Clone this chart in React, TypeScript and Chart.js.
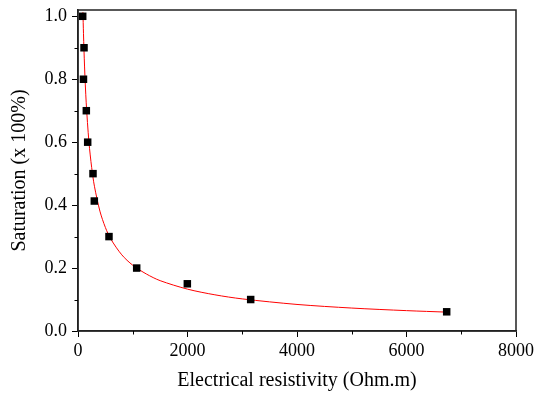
import React, { useEffect, useRef } from "react";
import { Chart, registerables } from "chart.js";

Chart.register(...registerables);

// Measured points: resistivity (Ohm.m) and saturation (fraction)
const resistivity = [86, 110, 100, 152, 177, 274, 298, 566, 1072, 1997, 3154, 6734];
const saturation = [1.0, 0.9, 0.8, 0.7, 0.6, 0.5, 0.413, 0.3, 0.2, 0.15, 0.1, 0.061];

// Fitted curve
const fitX = [90, 100, 120, 150, 200, 250, 300, 400, 500, 600, 800, 1000, 1250, 1500, 2000, 2500, 3000, 4000, 5000, 6000, 6734];
const fitY = [1.013, 0.946, 0.839, 0.725, 0.6, 0.519, 0.46, 0.381, 0.329, 0.292, 0.242, 0.209, 0.181, 0.16, 0.133, 0.115, 0.102, 0.0844, 0.0729, 0.0647, 0.06];

const xMajor = [0, 2000, 4000, 6000, 8000];
const xMinor = [1000, 3000, 5000, 7000];
const yMajor = [0, 0.2, 0.4, 0.6, 0.8, 1.0];
const yMinor = [0.1, 0.3, 0.5, 0.7, 0.9];

const FONT = "'Liberation Serif', 'Times New Roman', serif";

const framePlugin = {
  id: "frame",
  afterDraw(chart: any) {
    const { ctx, chartArea } = chart;
    const xs = chart.scales.x;
    const ys = chart.scales.y;
    ctx.save();
    ctx.strokeStyle = "#222";
    ctx.lineWidth = 1.5;
    ctx.beginPath();
    ctx.rect(chartArea.left, chartArea.top, chartArea.right - chartArea.left, chartArea.bottom - chartArea.top);
    ctx.stroke();
    ctx.lineWidth = 1;
    ctx.strokeStyle = "#000";
    ctx.beginPath();
    for (const v of xMinor) {
      const px = Math.round(xs.getPixelForValue(v)) + 0.5;
      ctx.moveTo(px, chartArea.bottom);
      ctx.lineTo(px, chartArea.bottom + 3.5);
    }
    for (const v of yMinor) {
      const py = Math.round(ys.getPixelForValue(v)) + 0.5;
      ctx.moveTo(chartArea.left, py);
      ctx.lineTo(chartArea.left - 3.5, py);
    }
    ctx.stroke();
    ctx.restore();
  },
};

export default function App() {
  const ref = useRef<HTMLCanvasElement | null>(null);
  useEffect(() => {
    document.body.style.margin = "0";
    const chart = new Chart(ref.current as HTMLCanvasElement, {
      type: "scatter",
      data: {
        datasets: [
          {
            label: "Data",
            data: resistivity.map((x, i) => ({ x, y: saturation[i] })),
            pointStyle: "rect",
            pointRadius: 5.3,
            backgroundColor: "#000",
            borderColor: "#000",
            borderWidth: 0,
            order: 0,
          },
          {
            label: "Fit",
            type: "line",
            data: fitX.map((x, i) => ({ x, y: fitY[i] })),
            borderColor: "#ff0000",
            borderWidth: 1,
            pointRadius: 0,
            tension: 0.3,
            fill: false,
            order: 1,
          } as any,
        ],
      },
      options: {
        responsive: false,
        animation: false,
        layout: { padding: { left: 8, right: 25, top: 10, bottom: 0 } },
        plugins: { legend: { display: false }, tooltip: { enabled: false } },
        scales: {
          x: {
            type: "linear",
            min: 0,
            max: 8000,
            afterBuildTicks: (s: any) => {
              s.ticks = xMajor.map((v) => ({ value: v }));
            },
            afterFit: (s: any) => {
              s.height = 62;
              s.paddingLeft = 0;
              s.paddingRight = 0;
            },
            grid: { drawOnChartArea: false, drawTicks: true, tickLength: 6, color: "#000", tickWidth: 1 },
            border: { display: true, color: "#222", width: 1.5 },
            ticks: {
              color: "#000",
              font: { family: FONT, size: 18 },
              padding: 3,
              maxRotation: 0,
              callback: (v: any) => String(v),
            },
            title: {
              display: true,
              text: "Electrical resistivity (Ohm.m)",
              color: "#000",
              font: { family: FONT, size: 20 },
              padding: { top: 4, bottom: 0 },
            },
          },
          y: {
            type: "linear",
            min: 0,
            max: 1.02,
            afterBuildTicks: (s: any) => {
              s.ticks = yMajor.map((v) => ({ value: v }));
            },
            afterFit: (s: any) => {
              s.width = 70;
              s.paddingTop = 0;
              s.paddingBottom = 0;
            },
            grid: { drawOnChartArea: false, drawTicks: true, tickLength: 6, color: "#000", tickWidth: 1 },
            border: { display: true, color: "#222", width: 1.5 },
            ticks: {
              color: "#000",
              font: { family: FONT, size: 18 },
              padding: 5,
              callback: (v: any) => Number(v).toFixed(1),
            },
            title: {
              display: true,
              text: "Saturation (x 100%)",
              color: "#000",
              font: { family: FONT, size: 20 },
              padding: { top: 0, bottom: 0 },
            },
          },
        },
      },
      plugins: [framePlugin],
    });
    return () => chart.destroy();
  }, []);
  return (
    <div style={{ position: "fixed", left: 0, top: 0, width: 541, height: 393 }}>
      <canvas ref={ref} width={541} height={393} />
    </div>
  );
}
